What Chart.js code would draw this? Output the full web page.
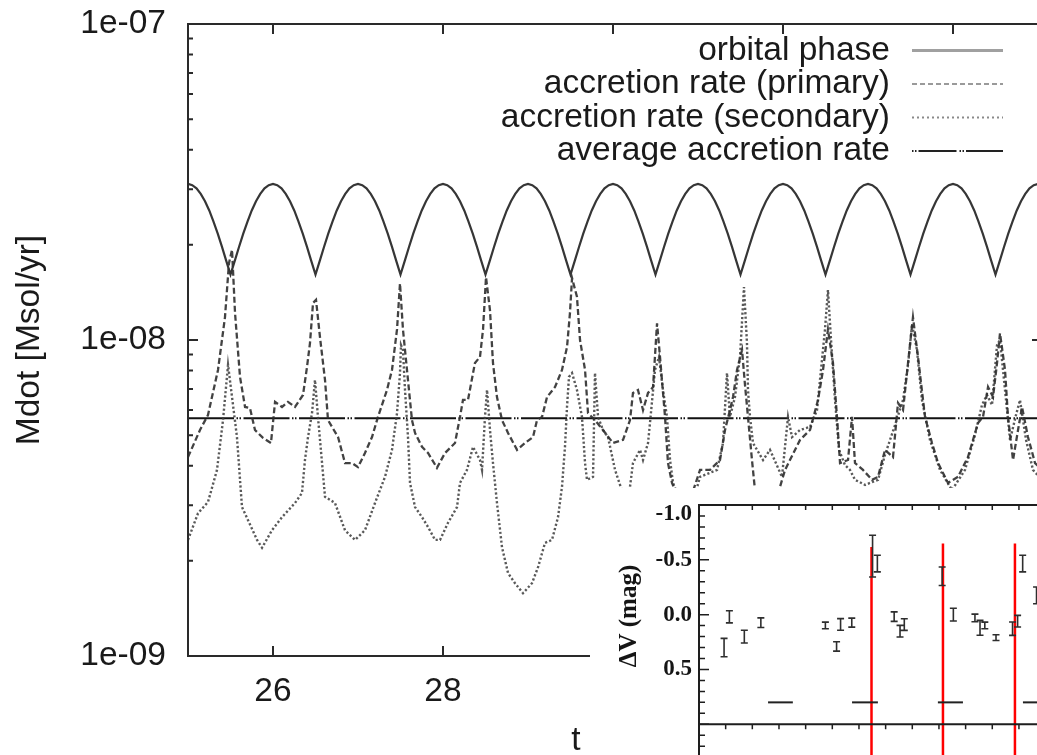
<!DOCTYPE html>
<html><head><meta charset="utf-8">
<script src="https://cdn.jsdelivr.net/npm/chart.js@4.4.1/dist/chart.umd.min.js"></script>
<style>
html,body{margin:0;padding:0;background:#fff;overflow:hidden;width:1037px;height:755px;position:relative;}
#main{position:absolute;left:0;top:0;}
#inset{position:absolute;left:590px;top:488px;}
</style></head><body>
<canvas id="main" width="1050" height="755"></canvas>
<canvas id="inset" width="462" height="280"></canvas>
<script>
// ---------------- main panel data ----------------
const xTicks = [26, 28, 30, 32, 34];
const yTicks = [1e-9, 1e-8, 1e-7];
const yTickLabels = ['1e-09', '1e-08', '1e-07'];
const yTitle = 'Mdot [Msol/yr]';
const xTitle = 't';
const legendLabels = ['orbital phase', 'accretion rate (primary)', 'accretion rate (secondary)', 'average accretion rate'];

const tPhase = [
25,25.05,25.1,25.15,25.2,25.25,25.3,25.35,25.4,25.45,25.5,25.55,25.6,25.65,25.7,25.75,25.8,25.85,25.9,25.95,
26,26.05,26.1,26.15,26.2,26.25,26.3,26.35,26.4,26.45,26.5,26.55,26.6,26.65,26.7,26.75,26.8,26.85,26.9,26.95,
27,27.05,27.1,27.15,27.2,27.25,27.3,27.35,27.4,27.45,27.5,27.55,27.6,27.65,27.7,27.75,27.8,27.85,27.9,27.95,
28,28.05,28.1,28.15,28.2,28.25,28.3,28.35,28.4,28.45,28.5,28.55,28.6,28.65,28.7,28.75,28.8,28.85,28.9,28.95,
29,29.05,29.1,29.15,29.2,29.25,29.3,29.35,29.4,29.45,29.5,29.55,29.6,29.65,29.7,29.75,29.8,29.85,29.9,29.95,
30,30.05,30.1,30.15,30.2,30.25,30.3,30.35,30.4,30.45,30.5,30.55,30.6,30.65,30.7,30.75,30.8,30.85,30.9,30.95,
31,31.05,31.1,31.15,31.2,31.25,31.3,31.35,31.4,31.45,31.5,31.55,31.6,31.65,31.7,31.75,31.8,31.85,31.9,31.95,
32,32.05,32.1,32.15,32.2,32.25,32.3,32.35,32.4,32.45,32.5,32.55,32.6,32.65,32.7,32.75,32.8,32.85,32.9,32.95,
33,33.05,33.1,33.15,33.2,33.25,33.3,33.35,33.4,33.45,33.5,33.55,33.6,33.65,33.7,33.75,33.8,33.85,33.9,33.95,
34,34.05,34.1,34.15,34.2,34.25,34.3,34.35,34.4,34.45,34.5,34.55,34.6,34.65,34.7,34.75,34.8,34.85,34.9,34.95,
35,35.05];
// orbital phase curve, in units of 1e-8 Msol/yr
const orbitalPhase_e8 = [
3.12,3.09,3.02,2.90,2.75,2.57,2.37,2.17,1.97,1.78,1.61,1.78,1.97,2.17,2.37,2.57,2.75,2.90,3.02,3.09,
3.12,3.09,3.02,2.90,2.75,2.57,2.37,2.17,1.97,1.78,1.61,1.78,1.97,2.17,2.37,2.57,2.75,2.90,3.02,3.09,
3.12,3.09,3.02,2.90,2.75,2.57,2.37,2.17,1.97,1.78,1.61,1.78,1.97,2.17,2.37,2.57,2.75,2.90,3.02,3.09,
3.12,3.09,3.02,2.90,2.75,2.57,2.37,2.17,1.97,1.78,1.61,1.78,1.97,2.17,2.37,2.57,2.75,2.90,3.02,3.09,
3.12,3.09,3.02,2.90,2.75,2.57,2.37,2.17,1.97,1.78,1.61,1.78,1.97,2.17,2.37,2.57,2.75,2.90,3.02,3.09,
3.12,3.09,3.02,2.90,2.75,2.57,2.37,2.17,1.97,1.78,1.61,1.78,1.97,2.17,2.37,2.57,2.75,2.90,3.02,3.09,
3.12,3.09,3.02,2.90,2.75,2.57,2.37,2.17,1.97,1.78,1.61,1.78,1.97,2.17,2.37,2.57,2.75,2.90,3.02,3.09,
3.12,3.09,3.02,2.90,2.75,2.57,2.37,2.17,1.97,1.78,1.61,1.78,1.97,2.17,2.37,2.57,2.75,2.90,3.02,3.09,
3.12,3.09,3.02,2.90,2.75,2.57,2.37,2.17,1.97,1.78,1.61,1.78,1.97,2.17,2.37,2.57,2.75,2.90,3.02,3.09,
3.12,3.09,3.02,2.90,2.75,2.57,2.37,2.17,1.97,1.78,1.61,1.78,1.97,2.17,2.37,2.57,2.75,2.90,3.02,3.09,
3.12,3.09];

const tPrimary = [
25.000,25.141,25.235,25.353,25.435,25.482,25.518,25.553,25.612,25.671,
25.729,25.788,25.882,25.976,26.024,26.106,26.176,26.259,26.353,26.400,
26.435,26.471,26.506,26.553,26.612,26.647,26.765,26.847,26.929,27.000,
27.082,27.165,27.235,27.341,27.400,27.459,27.494,27.529,27.588,27.635,
27.671,27.753,27.824,27.929,28.024,28.141,28.200,28.235,28.294,28.376,
28.435,28.471,28.506,28.553,28.588,28.635,28.694,28.765,28.871,28.965,
29.059,29.106,29.165,29.224,29.318,29.400,29.459,29.494,29.518,29.576,
29.612,29.671,29.706,29.788,29.882,30.000,30.118,30.200,30.235,30.294,
30.353,30.412,30.471,30.518,30.553,30.612,30.647,30.694,30.847,31.024,
31.141,31.259,31.318,31.376,31.412,31.459,31.518,31.553,31.588,31.635,
31.682,31.847,32.024,32.200,32.318,32.412,32.471,32.529,32.588,32.635,
32.671,32.765,32.812,32.847,32.941,33.047,33.118,33.200,33.294,33.353,
33.412,33.471,33.529,33.588,33.671,33.753,33.824,33.941,34.059,34.176,
34.294,34.353,34.412,34.471,34.518,34.553,34.612,34.647,34.706,34.765,
34.812,34.882,34.965,35.047];
const mdotPrimary = [
4.26e-9,5.19e-9,5.79e-9,8.04e-9,1.18e-8,1.75e-8,1.93e-8,1.22e-8,7.64e-9,6.14e-9,
6.09e-9,5.19e-9,4.90e-9,4.72e-9,6.37e-9,6.14e-9,6.37e-9,6.14e-9,6.70e-9,8.21e-9,
9.78e-9,1.31e-8,1.34e-8,1.02e-8,7.47e-9,5.58e-9,4.93e-9,4.08e-9,4.08e-9,3.96e-9,
4.39e-9,4.93e-9,5.71e-9,6.95e-9,8.04e-9,1.08e-8,1.51e-8,1.08e-8,7.47e-9,5.58e-9,
5.08e-9,4.59e-9,4.39e-9,3.94e-9,4.39e-9,4.72e-9,5.71e-9,6.46e-9,6.46e-9,8.46e-9,
8.84e-9,1.08e-8,1.58e-8,1.24e-8,8.46e-9,6.60e-9,5.58e-9,5.08e-9,4.49e-9,4.72e-9,
4.93e-9,5.58e-9,5.71e-9,6.60e-9,7.10e-9,8.04e-9,9.50e-9,1.22e-8,1.57e-8,1.37e-8,
1.00e-8,8.04e-9,5.87e-9,5.58e-9,5.19e-9,4.72e-9,4.83e-9,5.58e-9,6.80e-9,6.95e-9,
6.00e-9,6.80e-9,7.10e-9,1.13e-8,8.84e-9,5.71e-9,4.08e-9,3.53e-9,2.79e-9,3.88e-9,
3.88e-9,4.17e-9,5.19e-9,6.00e-9,6.60e-9,8.04e-9,9.30e-9,7.20e-9,5.71e-9,4.17e-9,
3.12e-9,2.69e-9,3.88e-9,4.83e-9,5.19e-9,6.46e-9,8.04e-9,1.08e-8,8.46e-9,5.71e-9,
4.08e-9,4.17e-9,5.71e-9,4.08e-9,3.88e-9,3.61e-9,3.69e-9,4.49e-9,4.26e-9,6.32e-9,
6.00e-9,8.46e-9,1.18e-8,8.84e-9,5.71e-9,4.72e-9,4.08e-9,3.53e-9,3.69e-9,4.26e-9,
5.46e-9,5.71e-9,7.10e-9,6.60e-9,8.46e-9,1.05e-8,8.04e-9,5.71e-9,4.17e-9,5.19e-9,
6.14e-9,4.93e-9,4.08e-9,3.88e-9];

const tSecondary = [
25.000,25.118,25.235,25.341,25.412,25.471,25.518,25.576,25.635,25.706,
25.812,25.871,25.988,26.106,26.259,26.341,26.376,26.412,26.459,26.494,
26.529,26.612,26.729,26.847,26.965,27.082,27.200,27.318,27.400,27.459,
27.494,27.506,27.529,27.553,27.588,27.612,27.671,27.753,27.824,27.906,
27.965,28.059,28.165,28.200,28.282,28.353,28.435,28.459,28.494,28.518,
28.553,28.588,28.635,28.694,28.765,28.847,28.941,29.047,29.118,29.200,
29.282,29.353,29.400,29.435,29.459,29.482,29.518,29.576,29.635,29.671,
29.694,29.765,29.788,29.824,29.882,29.941,30.024,30.141,30.200,30.235,
30.318,30.353,30.412,30.435,30.494,30.541,30.588,30.635,30.671,30.706,
30.882,31.024,31.224,31.294,31.341,31.376,31.435,31.494,31.541,31.576,
31.588,31.612,31.647,31.765,31.847,31.988,32.059,32.106,32.200,32.318,
32.400,32.435,32.494,32.529,32.565,32.612,32.659,32.729,32.788,32.847,
32.965,33.118,33.200,33.318,33.412,33.471,33.518,33.576,33.635,33.729,
33.847,33.988,34.141,34.259,34.341,34.400,34.459,34.518,34.553,34.600,
34.671,34.741,34.788,34.859,34.941,35.047];
const mdotSecondary = [
2.33e-9,2.83e-9,3.07e-9,3.88e-9,5.58e-9,8.34e-9,6.60e-9,4.93e-9,2.96e-9,2.69e-9,
2.33e-9,2.20e-9,2.50e-9,2.75e-9,3.05e-9,3.28e-9,4.17e-9,4.93e-9,5.87e-9,7.47e-9,
5.71e-9,3.19e-9,3.05e-9,2.50e-9,2.33e-9,2.50e-9,3.05e-9,3.69e-9,4.49e-9,5.87e-9,
7.86e-9,9.64e-9,9.30e-9,6.95e-9,4.93e-9,3.53e-9,2.96e-9,2.75e-9,2.56e-9,2.33e-9,
2.33e-9,2.64e-9,2.96e-9,3.53e-9,3.88e-9,4.59e-9,4.17e-9,3.88e-9,5.71e-9,6.95e-9,
5.19e-9,4.08e-9,3.05e-9,2.21e-9,1.83e-9,1.70e-9,1.58e-9,1.70e-9,1.91e-9,2.28e-9,
2.33e-9,2.75e-9,3.43e-9,4.59e-9,6.14e-9,7.64e-9,7.86e-9,6.95e-9,5.71e-9,4.08e-9,
3.61e-9,3.69e-9,7.86e-9,5.71e-9,5.19e-9,4.93e-9,3.88e-9,3.12e-9,3.43e-9,4.08e-9,
4.49e-9,4.17e-9,4.72e-9,5.46e-9,8.04e-9,8.84e-9,6.95e-9,5.71e-9,4.17e-9,3.53e-9,
2.69e-9,3.69e-9,3.88e-9,4.72e-9,7.86e-9,5.71e-9,6.60e-9,8.84e-9,1.47e-8,9.78e-9,
6.95e-9,5.71e-9,4.72e-9,4.17e-9,4.49e-9,3.69e-9,5.71e-9,4.93e-9,5.19e-9,5.31e-9,
6.00e-9,7.47e-9,1.08e-8,1.44e-8,1.00e-8,6.46e-9,4.49e-9,4.02e-9,3.88e-9,3.61e-9,
3.48e-9,3.61e-9,4.33e-9,5.38e-9,6.46e-9,8.34e-9,1.12e-8,9.30e-9,6.46e-9,4.83e-9,
3.88e-9,3.35e-9,3.88e-9,5.01e-9,6.23e-9,6.70e-9,6.23e-9,9.64e-9,1.00e-8,7.47e-9,
4.83e-9,5.79e-9,6.46e-9,4.83e-9,3.88e-9,3.61e-9];

const tAverage = [25, 35.05];
const mdotAverage = [5.65e-9, 5.65e-9];

// ---------------- inset (light curve) data ----------------
const insetYTicks = [-1.0, -0.5, 0.0, 0.5];
const insetYLabels = ['-1.0', '-0.5', '0.0', '0.5'];
const insetTitle = '\u0394V (mag)';
const obsX   = [0.94,1.14,1.70,2.32,4.74,5.16,5.31,5.73,6.51,6.69,7.32,7.54,7.70,9.12,9.54,10.35,10.54,10.72,11.14,11.76,11.95,12.14,12.66];
const obsMag = [0.30,0.02,0.20,0.073,0.098,0.29,0.089,0.073,-0.534,-0.466,0.018,0.151,0.09,-0.35,0.0,0.03,0.12,0.098,0.21,0.128,0.06,-0.466,-0.176];
const obsErr = [0.084,0.055,0.058,0.044,0.03,0.043,0.053,0.041,0.19,0.076,0.043,0.053,0.053,0.084,0.058,0.035,0.068,0.03,0.026,0.061,0.053,0.076,0.076];
const dashStart = [2.59, 5.74, 8.96, 12.15];
const dashEnd   = [3.52, 6.71, 9.90, 13.24];
const dashLevel = 0.80;
const redLineX   = [6.47, 9.15, 11.85];
const redLineTop = [-0.617, -0.648, -0.648];
const panelSeparator = 1.0;

// ---------------- styles ----------------
const SANS = "'Liberation Sans', Arial, Helvetica, sans-serif";
const SERIF = "'Liberation Serif', 'Times New Roman', serif";
const FS = 33.5;
const TEXT = '#1a1a1a';
const pts = (xs, ys, k) => xs.map((x, i) => ({x: x, y: ys[i] * (k || 1)}));

const mainFrame = {
  id: 'mainFrame',
  afterDatasetsDraw(chart) {
    const {ctx, chartArea: a, scales: {x, y}} = chart;
    ctx.save();
    ctx.strokeStyle = '#2a2a2a';
    ctx.lineWidth = 2;
    ctx.setLineDash([]);
    ctx.strokeRect(a.left, a.top, a.right - a.left, a.bottom - a.top);
    ctx.beginPath();
    xTicks.forEach(v => {
      const px = x.getPixelForValue(v);
      ctx.moveTo(px, a.bottom); ctx.lineTo(px, a.bottom - 10);
      ctx.moveTo(px, a.top); ctx.lineTo(px, a.top + 10);
    });
    for (let e = -9; e < -7; e++) {
      for (let k = 1; k <= 9; k++) {
        const py = y.getPixelForValue(k * Math.pow(10, e));
        const L = k === 1 ? 10 : 5;
        ctx.moveTo(a.left, py); ctx.lineTo(a.left + L, py);
        ctx.moveTo(a.right, py); ctx.lineTo(a.right - L, py);
      }
    }
    ctx.stroke();
    ctx.fillStyle = TEXT;
    ctx.font = FS + 'px ' + SANS;
    ctx.textAlign = 'center';
    ctx.textBaseline = 'alphabetic';
    ctx.fillText(xTitle, 576, 750);
    ctx.restore();
  }
};

const keyPlugin = {
  id: 'keyPlugin',
  afterDraw(chart) {
    const ctx = chart.ctx;
    ctx.save();
    chart.data.datasets.forEach((ds, i) => {
      const yy = 50.5 + i * 33.5;
      ctx.fillStyle = TEXT;
      ctx.font = FS + 'px ' + SANS;
      ctx.textAlign = 'right';
      ctx.textBaseline = 'middle';
      ctx.fillText(ds.label, 890, yy);
      ctx.beginPath();
      ctx.setLineDash(ds.keyDash || []);
      ctx.strokeStyle = ds.keyColor;
      ctx.lineWidth = ds.keyWidth || 2;
      ctx.moveTo(912, yy); ctx.lineTo(1003, yy);
      ctx.stroke();
    });
    ctx.restore();
  }
};

new Chart(document.getElementById('main'), {
  type: 'line',
  data: {
    datasets: [
      {label: legendLabels[0], data: pts(tPhase, orbitalPhase_e8, 1e-8), borderColor: '#363636', borderWidth: 2.2,
       keyColor: '#a0a0a0', keyWidth: 3, keyDash: []},
      {label: legendLabels[1], data: pts(tPrimary, mdotPrimary), borderColor: 'rgba(45,45,45,0.9)', borderWidth: 2.3, borderDash: [6, 3],
       keyColor: '#9a9a9a', keyWidth: 2, keyDash: [5, 3]},
      {label: legendLabels[2], data: pts(tSecondary, mdotSecondary), borderColor: 'rgba(60,60,60,0.85)', borderWidth: 2.4, borderDash: [2.2, 2.2],
       keyColor: '#8a8a8a', keyWidth: 2, keyDash: [2, 3]},
      {label: legendLabels[3], data: pts(tAverage, mdotAverage), borderColor: '#111', borderWidth: 2, borderDash: [46, 2.5, 1.5, 1.5, 1.5, 2.5],
       keyColor: '#222', keyWidth: 2, keyDash: [1.5, 1.5, 1.5, 2, 38, 3]}
    ]
  },
  options: {
    responsive: false, animation: false, events: [],
    layout: {padding: {left: 0, top: 24, right: 8, bottom: 0}},
    elements: {point: {radius: 0}, line: {tension: 0}},
    plugins: {legend: {display: false}, tooltip: {enabled: false}},
    scales: {
      x: {
        type: 'linear', min: 25, max: 35.047,
        afterBuildTicks: s => { s.ticks = xTicks.map(v => ({value: v})); },
        afterFit: s => { s.height = 99; s.paddingLeft = 0; s.paddingRight = 0; },
        grid: {display: false, drawTicks: false}, border: {display: false},
        ticks: {font: {family: SANS, size: FS}, color: TEXT, padding: 16, maxRotation: 0, autoSkip: false, callback: v => String(v)}
      },
      y: {
        type: 'logarithmic', min: 1e-9, max: 1e-7,
        afterBuildTicks: s => { s.ticks = yTicks.map(v => ({value: v})); },
        afterFit: s => { s.width = 188; s.paddingTop = 0; s.paddingBottom = 0; },
        grid: {display: false, drawTicks: false}, border: {display: false},
        ticks: {font: {family: SANS, size: FS}, color: TEXT, padding: 22, autoSkip: false, callback: (v, i) => yTickLabels[i]},
        title: {display: true, text: yTitle, font: {family: SANS, size: FS}, color: TEXT, padding: {top: 10, bottom: 0}}
      }
    }
  },
  plugins: [mainFrame, keyPlugin]
});

// ---------------- inset ----------------
const insetBg = {
  id: 'insetBg',
  beforeDraw(chart) {
    const ctx = chart.ctx;
    ctx.save(); ctx.fillStyle = '#fff'; ctx.fillRect(0, 0, chart.width, chart.height); ctx.restore();
  }
};
const insetDecor = {
  id: 'insetDecor',
  afterDatasetsDraw(chart) {
    const {ctx, chartArea: a, scales: {x, y}} = chart;
    ctx.save();
    // error bars
    ctx.strokeStyle = '#2e2e2e'; ctx.lineWidth = 1.6;
    ctx.beginPath();
    obsX.forEach((xv, i) => {
      const px = x.getPixelForValue(xv);
      const y1 = y.getPixelForValue(obsMag[i] - obsErr[i]);
      const y2 = y.getPixelForValue(obsMag[i] + obsErr[i]);
      ctx.moveTo(px, y1); ctx.lineTo(px, y2);
      ctx.moveTo(px - 3.5, y1); ctx.lineTo(px + 3.5, y1);
      ctx.moveTo(px - 3.5, y2); ctx.lineTo(px + 3.5, y2);
    });
    ctx.stroke();
    // frame
    ctx.strokeStyle = '#1e1e1e'; ctx.lineWidth = 2;
    ctx.beginPath();
    ctx.moveTo(a.left, a.bottom + 10); ctx.lineTo(a.left, a.top); ctx.lineTo(a.right + 5, a.top);
    const ys = y.getPixelForValue(panelSeparator);
    ctx.moveTo(a.left, ys); ctx.lineTo(a.right + 5, ys);
    ctx.stroke();
    // ticks
    ctx.lineWidth = 1.5;
    ctx.beginPath();
    for (let k = -10; k <= 14; k++) {
      const v = k / 10;
      const py = y.getPixelForValue(v);
      const L = (k % 5 === 0) ? 10 : 6;
      ctx.moveTo(a.left, py); ctx.lineTo(a.left + L, py);
    }
    for (let k = 1; k <= 13; k++) {
      const px = x.getPixelForValue(k);
      ctx.moveTo(px, a.top); ctx.lineTo(px, a.top + 5);
      ctx.moveTo(px, ys); ctx.lineTo(px, ys + 5);
    }
    ctx.stroke();
    // labels
    ctx.fillStyle = '#151515';
    ctx.font = 'bold 23px ' + SERIF;
    ctx.textAlign = 'right'; ctx.textBaseline = 'middle';
    insetYTicks.forEach((v, i) => {
      const py = Math.max(y.getPixelForValue(v), a.top + 9.5);
      ctx.fillText(insetYLabels[i], a.left - 7, py);
    });
    ctx.translate(40, 128);
    ctx.rotate(-Math.PI / 2);
    ctx.font = 'bold 25px ' + SERIF;
    ctx.textAlign = 'center';
    ctx.fillText(insetTitle, 0, 0);
    ctx.restore();
  }
};

const insetSets = [];
dashStart.forEach((s, i) => insetSets.push({data: [{x: s, y: dashLevel}, {x: dashEnd[i], y: dashLevel}], showLine: true, borderColor: '#222', borderWidth: 2}));
redLineX.forEach((xv, i) => insetSets.push({data: [{x: xv, y: redLineTop[i]}, {x: xv, y: 1.353}], showLine: true, borderColor: '#ff0000', borderWidth: 2.5}));

new Chart(document.getElementById('inset'), {
  type: 'scatter',
  data: {datasets: insetSets},
  options: {
    responsive: false, animation: false, events: [],
    layout: {padding: {left: 109, top: 17, right: 0, bottom: 5}},
    elements: {point: {radius: 0}},
    plugins: {legend: {display: false}, tooltip: {enabled: false}},
    scales: {
      x: {type: 'linear', display: false, min: 0, max: 13.24},
      y: {type: 'linear', display: false, reverse: true, min: -1.0, max: 1.353}
    }
  },
  plugins: [insetBg, insetDecor]
});
</script>
</body></html>
